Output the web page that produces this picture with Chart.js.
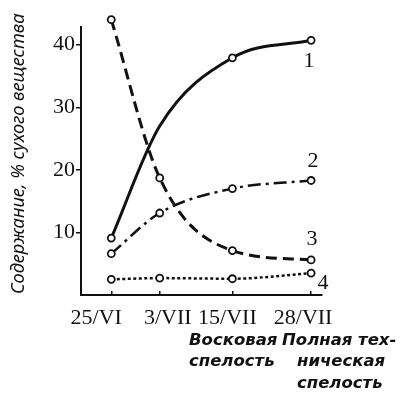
<!DOCTYPE html>
<html>
<head>
<meta charset="utf-8">
<script src="https://cdn.jsdelivr.net/npm/chart.js@4.4.1/dist/chart.umd.min.js"></script>
<style>
  html, body { margin: 0; padding: 0; background: #fff; }
  #wrap { width: 402px; height: 395px; }
</style>
</head>
<body>
<div id="wrap"><canvas id="chartOne" width="402" height="395"></canvas></div>
<script>
// days counted from 25 June
const days = [0, 8, 20, 33];
const dateLabels = ['25/VI', '3/VII', '15/VII', '28/VII'];
const yTicks = [10, 20, 30, 40];

const curve1 = [9.1, 27.0, 37.9, 40.7];
const curve2 = [6.6, 13.1, 17.0, 18.3];
const curve3 = [44.0, 18.7, 7.1, 5.6];
const curve4 = [2.5, 2.7, 2.6, 3.5];
const curveNames = ['1', '2', '3', '4'];

const yTitle = 'Содержание, % сухого вещества';
const stageLeft = ['Восковая', 'спелость'];
const stageRight = ['Полная тех-', 'ническая', 'спелость'];

const serif = "'Liberation Serif', 'DejaVu Serif', serif";
const sans = "'DejaVu Sans', 'Noto Sans', sans-serif";
const AXIS_TOP = 43; // the drawn y axis stops here, curve 3 starts above it

function makeSet(values, dash, width, hidden) {
    return {
        data: days.map((d, i) => ({ x: d, y: values[i] })),
        borderColor: '#111',
        borderWidth: width,
        borderDash: dash,
        pointRadius: values.map((v, i) => hidden.includes(i) ? 0 : 3.5),
        pointBackgroundColor: '#fff',
        pointBorderColor: '#111',
        pointBorderWidth: 1.8,
        cubicInterpolationMode: 'monotone',
        fill: false
    };
}

// texts drawn around the plot
const textPlugin = {
    id: 'texts',
    afterDraw(chart) {
        const ctx = chart.ctx;
        const xs = chart.scales.x;
        const ys = chart.scales.y;
        ctx.save();
        ctx.fillStyle = '#111';
        ctx.strokeStyle = '#111';

        // y axis line, shorter than the plot area
        ctx.lineWidth = 2;
        ctx.beginPath();
        ctx.moveTo(xs.left, ys.getPixelForValue(AXIS_TOP));
        ctx.lineTo(xs.left, ys.bottom + 1);
        ctx.stroke();

        // date labels under the x axis
        const labelShift = [-15, 8, -5, -8];
        ctx.font = '22px ' + serif;
        ctx.textAlign = 'center';
        ctx.textBaseline = 'alphabetic';
        days.forEach((d, i) => {
            ctx.fillText(dateLabels[i], xs.getPixelForValue(d) + labelShift[i], 324);
        });

        // numbers at the ends of the curves
        const sets = [curve1, curve2, curve3, curve4];
        const offs = [[-2, 21], [2, -19], [1, -21], [12, 10]];
        ctx.textBaseline = 'middle';
        sets.forEach((s, i) => {
            const last = s.length - 1;
            const px = xs.getPixelForValue(days[last]) + offs[i][0];
            const py = ys.getPixelForValue(s[last]) + offs[i][1];
            ctx.fillText(curveNames[i], px, py);
        });

        // y axis title
        ctx.save();
        ctx.font = "italic 18.3px 'Noto Sans', sans-serif";
        ctx.translate(19, ys.bottom - 1);
        ctx.rotate(-Math.PI / 2);
        ctx.textAlign = 'left';
        ctx.textBaseline = 'middle';
        ctx.fillText(yTitle, 0, 0);
        ctx.restore();

        // ripeness captions
        ctx.font = 'oblique bold 16.5px ' + sans;
        ctx.textAlign = 'left';
        ctx.textBaseline = 'alphabetic';
        stageLeft.forEach((t, i) => ctx.fillText(t, 189, 345 + i * 21));
        ctx.fillText(stageRight[0], 282, 345);
        stageRight.slice(1).forEach((t, i) => ctx.fillText(t, 297, 366 + i * 22));
        ctx.restore();
    }
};

const ctx = document.getElementById('chartOne').getContext('2d');
const myChart = new Chart(ctx, {
    type: 'line',
    data: {
        datasets: [
            makeSet(curve1, [], 3, [1]),
            makeSet(curve2, [13, 5, 3, 5], 2.5, []),
            makeSet(curve3, [11, 6], 3, []),
            makeSet(curve4, [3, 2.5], 2.5, [])
        ]
    },
    options: {
        responsive: false,
        animation: false,
        devicePixelRatio: 1,
        layout: {
            padding: { left: 0, right: 80, top: 11, bottom: 0 }
        },
        plugins: {
            legend: { display: false },
            tooltip: { enabled: false }
        },
        scales: {
            x: {
                type: 'linear',
                min: -5,
                max: 34.8,
                afterBuildTicks: (scale) => { scale.ticks = days.map(v => ({ value: v })); },
                afterFit: (scale) => { scale.height = 100; },
                border: { display: true, color: '#111', width: 2 },
                grid: { drawOnChartArea: false, drawTicks: true, tickLength: -4, color: '#111', lineWidth: 1.5 },
                ticks: { display: false }
            },
            y: {
                min: 0,
                max: 44.87,
                afterBuildTicks: (scale) => { scale.ticks = yTicks.map(v => ({ value: v })); },
                afterFit: (scale) => { scale.width = 81; },
                border: { display: false },
                grid: { drawOnChartArea: false, drawTicks: true, tickLength: 5, color: '#111', lineWidth: 1.5 },
                ticks: {
                    color: '#111',
                    font: { family: serif, size: 22 },
                    padding: 1
                }
            }
        }
    },
    plugins: [textPlugin]
});
</script>
</body>
</html>
